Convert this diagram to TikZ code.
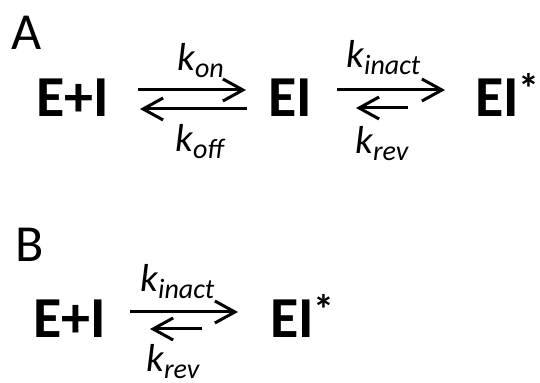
\documentclass[tikz,border=0pt]{standalone}
\usepackage{fontspec}
\setmainfont{Carlito}
\usetikzlibrary{arrows.meta}
\newcommand\ratesub[1]{\raisebox{-3.5pt}{\fontsize{14}{14}\selectfont #1}}
\newcommand\starsup{\hspace{-0.5pt}\raisebox{6.5pt}{\fontsize{21}{21}\selectfont *}}
\begin{document}
\begin{tikzpicture}[x=0.5pt,y=-0.5pt,
  species/.style={font=\fontsize{29}{29}\selectfont\bfseries, inner sep=0pt, anchor=base west},
  panel/.style={font=\fontsize{26}{26}\selectfont, inner sep=0pt, anchor=base west},
  rate/.style={font=\fontsize{19.5}{19.5}\selectfont\itshape, inner sep=0pt, anchor=base west},
  rxn/.style={line width=1.5pt, -{Straight Barb[length=10pt,width=11pt]}}]
\useasboundingbox (0,0) rectangle (540,383);
% Panel A
\node[panel] (labA) at (11,50) {A};
\node[species] (EIa) at (36,117) {E+I};
\node[species] (EIA) at (268,117) {EI};
\node[species] (EIsA) at (475,117) {EI\starsup};
\node[rate] (kon) at (177,71) {k\ratesub{on}};
\node[rate] (koff) at (175,152) {k\ratesub{off}};
\node[rate] (kinA) at (346,68) {k\ratesub{inact}};
\node[rate] (krevA) at (355,154) {k\ratesub{rev}};
\coordinate (a1f0) at (138,90);  \coordinate (a1f1) at (246,90);
\coordinate (a1b0) at (247,109); \coordinate (a1b1) at (140,109);
\coordinate (a2f0) at (337,90);  \coordinate (a2f1) at (445,90);
\coordinate (a2b0) at (408,108); \coordinate (a2b1) at (356,108);
\draw[rxn] (a1f0) -- (a1f1);
\draw[rxn] (a1b0) -- (a1b1);
\draw[rxn] (a2f0) -- (a2f1);
\draw[rxn] (a2b0) -- (a2b1);
% Panel B
\node[panel] (labB) at (15,262) {B};
\node[species] (EIb) at (33,338) {E+I};
\node[species] (EIsB) at (270,338) {EI\starsup};
\node[rate] (kinB) at (140,292) {k\ratesub{inact}};
\node[rate] (krevB) at (146,372) {k\ratesub{rev}};
\coordinate (b1f0) at (130,312); \coordinate (b1f1) at (238,312);
\coordinate (b1b0) at (202,329); \coordinate (b1b1) at (150,329);
\draw[rxn] (b1f0) -- (b1f1);
\draw[rxn] (b1b0) -- (b1b1);
\end{tikzpicture}
\end{document}
